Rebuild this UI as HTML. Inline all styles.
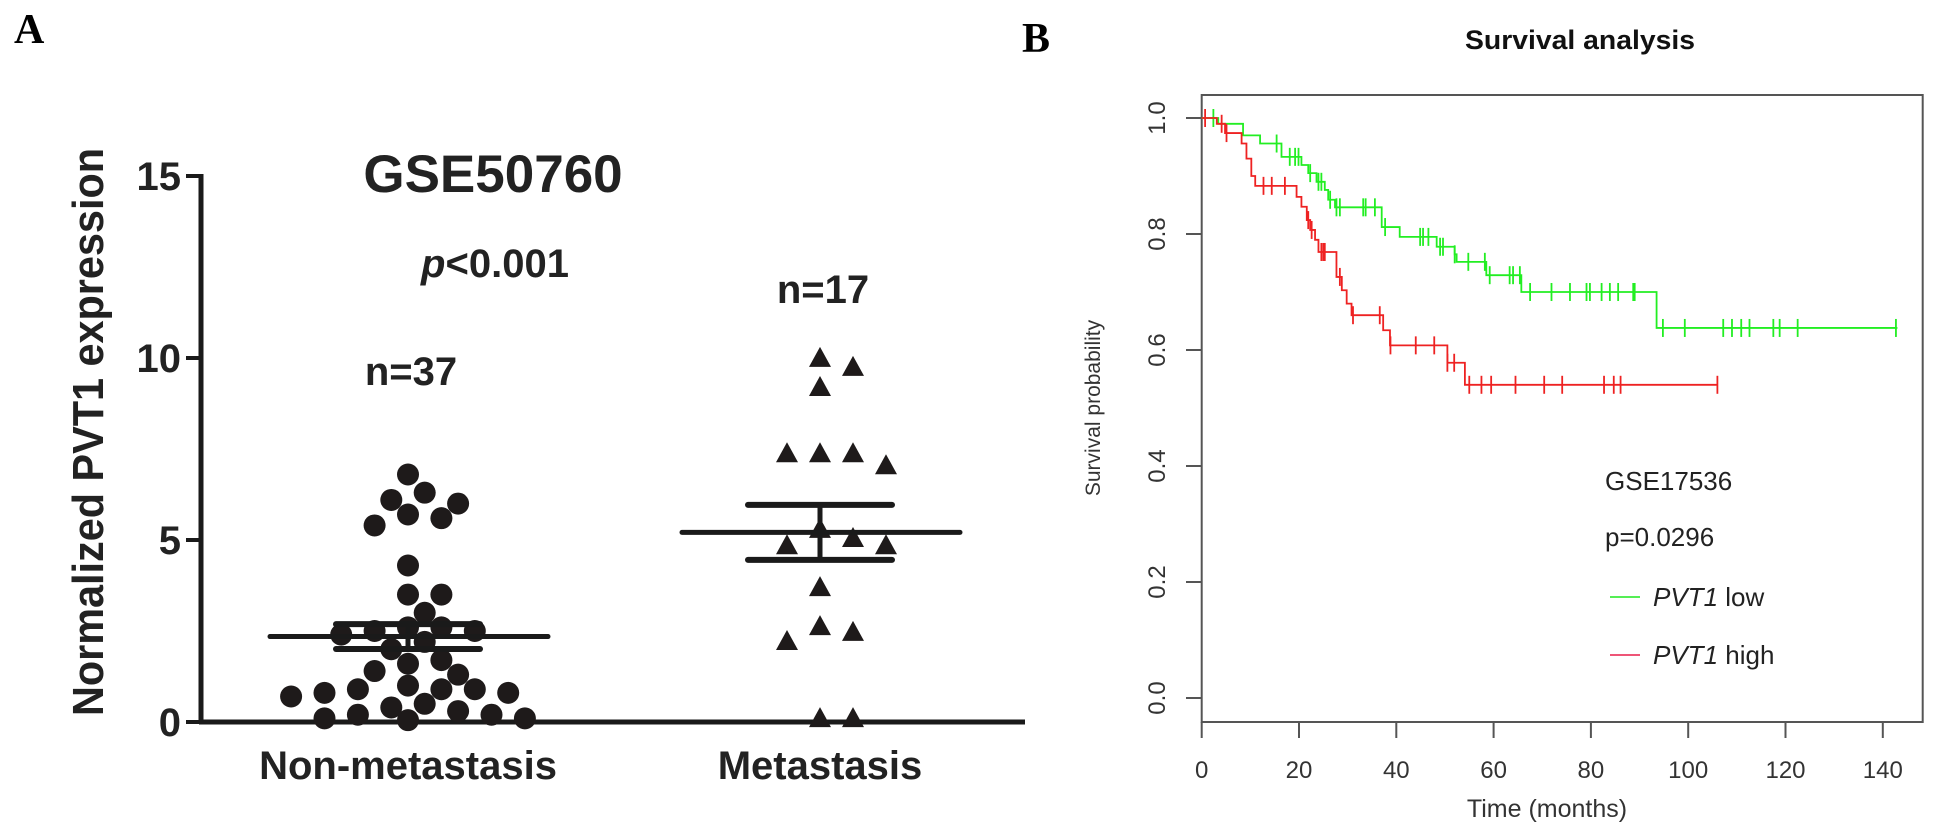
<!DOCTYPE html>
<html><head><meta charset="utf-8"><style>
html,body{margin:0;padding:0;background:#fff;}
svg{display:block;}
</style></head><body>
<svg id="fig" width="1936" height="839" viewBox="0 0 1936 839" xmlns="http://www.w3.org/2000/svg">
<text x="14" y="43" font-family="Liberation Serif, serif" font-weight="bold" font-size="42">A</text>
<text x="1022" y="52" font-family="Liberation Serif, serif" font-weight="bold" font-size="42">B</text>
<g id="panelA"></g>
<g id="panelB"></g>
</svg>
<script>
// ---------- Panel A data ----------
const groupsA = ["Non-metastasis", "Metastasis"];
const nonMetValues = [6.8,6.1,6.0,6.3,5.7,5.6,5.4,4.3,3.5,3.5,3.0,2.6,2.6,2.5,2.5,2.4,2.2,2.0,1.7,1.6,1.4,1.3,1.0,0.9,0.9,0.9,0.8,0.8,0.7,0.5,0.4,0.3,0.2,0.2,0.1,0.1,0.05];
const metValues = [9.95,9.7,9.15,7.33,7.33,7.33,7.0,5.25,5.0,4.8,4.8,3.65,2.42,2.58,2.17,0.05,0.05];
const yTicksA = [0,5,10,15];
const nLabels = ["n=37","n=17"];

// ---------- Panel B data ----------
const xTicksB = [0,20,40,60,80,100,120,140];
const yTicksB = [0.0,0.2,0.4,0.6,0.8,1.0];
const lowTimes = [3.4,8.5,12,16.4,20.5,21.9,23.6,25.3,26,27.4,37,40.7,48.3,52,52.4,58.5,65.7,93.5];
const lowSurv  = [0.99,0.97,0.956,0.933,0.919,0.905,0.89,0.876,0.859,0.846,0.812,0.795,0.778,0.765,0.752,0.729,0.7,0.638];
const lowEnd = 143;
const lowCensor = [2.4,15.4,18.1,19.2,19.9,22.3,24,24.6,26.4,27.7,28.4,33.2,33.7,35.6,37.7,44.9,45.5,46.6,49,49.6,52,54.8,58.2,59.2,63.3,64,65.4,67.5,71.9,75.7,79.1,79.8,82.2,83.9,85.6,88.7,89,94.8,99.3,107.2,109,110.9,112.6,117.5,118.8,122.5,142.7];
const highTimes = [3.1,4.8,8.2,9.2,10.2,11,19.5,20.5,21.6,22.3,23.3,24,27.7,28.8,29.8,30.8,37.3,38.7,50.5,54.1];
const highSurv  = [0.99,0.974,0.956,0.93,0.9,0.883,0.864,0.847,0.824,0.807,0.79,0.769,0.726,0.703,0.68,0.66,0.634,0.608,0.578,0.54];
const highEnd = 106;
const highCensor = [0.7,4.1,5.1,12.7,14.4,17.1,21.9,22.6,24.6,25,25.3,28.4,31.1,36.6,38.8,44,47.8,50.5,51.9,55,57.5,59.5,64.5,70.4,74.1,82.7,84.7,86.1,106];

const NS = "http://www.w3.org/2000/svg";
function mk(tag, attrs, parent){ const e=document.createElementNS(NS,tag); for(const k in attrs) e.setAttribute(k,attrs[k]); parent.appendChild(e); return e; }

// ---------- Panel A ----------
(function(){
  const g = document.getElementById('panelA');
  const yA = v => 722 - v*36.4;
  const cx = [408, 820];
  const F = '"Liberation Sans", Arial, sans-serif';
  let ax = mk('line',{x1:201,y1:yA(15)-2,x2:201,y2:724,stroke:'#1a1a1a','stroke-width':5},g);
   
  let bx = mk('line',{x1:199,y1:722,x2:1025,y2:722,stroke:'#1a1a1a','stroke-width':5},g);
   
  yTicksA.forEach(v=>{
    const t = mk('line',{x1:186,y1:yA(v),x2:201,y2:yA(v),stroke:'#1a1a1a','stroke-width':4},g);
     
    const l = mk('text',{x:181,y:yA(v)+14,'text-anchor':'end','font-family':F,'font-weight':'bold','font-size':40,fill:'#222'},g);
    l.textContent = v;
     
  });
  const yt = mk('text',{x:0,y:0,transform:'translate(103,432) rotate(-90)','text-anchor':'middle','font-family':F,'font-weight':'bold','font-size':44,fill:'#222',textLength:568,lengthAdjust:'spacingAndGlyphs'},g);
  yt.textContent = 'Normalized PVT1 expression';
   
  const t1 = mk('text',{x:493,y:192,'text-anchor':'middle','font-family':F,'font-weight':'bold','font-size':53,fill:'#222'},g);
  t1.textContent='GSE50760';
   
  const pt = mk('text',{x:495,y:277,'text-anchor':'middle','font-family':F,'font-weight':'bold','font-size':40,fill:'#222'},g);
  pt.innerHTML='<tspan font-style="italic">p</tspan>&lt;0.001';
   
  groupsA.forEach((name,i)=>{
    const c = mk('text',{x:cx[i],y:779,'text-anchor':'middle','font-family':F,'font-weight':'bold','font-size':40,fill:'#222'},g);
    c.textContent=name;
     
    const n = mk('text',{x:cx[i]+3,y:i==0?385:303,'text-anchor':'middle','font-family':F,'font-weight':'bold','font-size':40,fill:'#222'},g);
    n.textContent=nLabels[i];
     
  });
  function swarm(vals, step, minD, tri){
    const placed=[];
    const order = vals.map((v,i)=>i).sort((a,b)=>vals[b]-vals[a]);
    order.forEach(i=>{
      const y=yA(vals[i]);
      for(let k=0;k<40;k++){
        const off = (k%2?1:-1)*Math.ceil(k/2)*step;
        const ok = placed.every(p=> tri ? !(Math.abs(p.x-off)<minD && Math.abs(p.y-y)<minD) : Math.hypot(p.x-off,p.y-y)>=minD);
        if(ok){ placed.push({x:off,y:y}); break; }
      }
    });
    return placed;
  }
  const pn = swarm(nonMetValues, 16.7, 21, false);
  pn.forEach(p=>{
    const c = mk('circle',{cx:cx[0]+p.x,cy:p.y,r:11,fill:'#1e1a1a'},g);
     
  });
  const pm = swarm(metValues, 33, 21, true);
  pm.forEach(p=>{
    const x=cx[1]+p.x, y=p.y;
    const t = mk('polygon',{points:`${x},${y-13} ${x-11},${y+7} ${x+11},${y+7}`,fill:'#1e1a1a'},g);
     
  });
  function stats(a){ const m=a.reduce((s,v)=>s+v,0)/a.length; const sd=Math.sqrt(a.reduce((s,v)=>s+(v-m)*(v-m),0)/(a.length-1)); return [m, sd/Math.sqrt(a.length)]; }
  [nonMetValues, metValues].forEach((arr,i)=>{
    const [m,se]=stats(arr);
    const x=cx[i];
    const ml = mk('line',{x1:x-138,y1:yA(m),x2:x+140,y2:yA(m),stroke:'#1a1a1a','stroke-width':5,'stroke-linecap':'round'},g);
     
    [m+se,m-se].forEach(v=>{
      const s = mk('line',{x1:x-72,y1:yA(v),x2:x+72,y2:yA(v),stroke:'#1a1a1a','stroke-width':6,'stroke-linecap':'round'},g);
       
    });
    const v = mk('line',{x1:x,y1:yA(m+se),x2:x,y2:yA(m-se),stroke:'#1a1a1a','stroke-width':5},g);
     
  });
})();

// ---------- Panel B ----------
(function(){
  const g = document.getElementById('panelB');
  const xB = t => 1201.7 + t*4.865;
  const yB = s => 698 - s*580;
  const F = '"Liberation Sans", Arial, sans-serif';
  const box = mk('rect',{x:1201.7,y:95,width:721,height:627,fill:'none',stroke:'#555','stroke-width':2},g);
   
  xTicksB.forEach(t=>{
    const l = mk('line',{x1:xB(t),y1:722,x2:xB(t),y2:738,stroke:'#555','stroke-width':2},g);
     
    const tx = mk('text',{x:xB(t),y:778,'text-anchor':'middle','font-family':F,'font-size':24,fill:'#333'},g);
    tx.textContent=t;
     
  });
  yTicksB.forEach(s=>{
    const l = mk('line',{x1:1186,y1:yB(s),x2:1201.7,y2:yB(s),stroke:'#555','stroke-width':2},g);
     
    const tx = mk('text',{x:0,y:0,transform:`translate(1165,${yB(s)}) rotate(-90)`,'text-anchor':'middle','font-family':F,'font-size':24,fill:'#333'},g);
    tx.textContent=s.toFixed(1);
     
  });
  const yl = mk('text',{x:0,y:0,transform:'translate(1100,408) rotate(-90)','text-anchor':'middle','font-family':F,'font-size':21,fill:'#333'},g);
  yl.textContent='Survival probability';
   
  const xl = mk('text',{x:1547,y:817,'text-anchor':'middle','font-family':F,'font-size':25,fill:'#333'},g);
  xl.textContent='Time (months)';
   
  const ti = mk('text',{x:1580,y:49,'text-anchor':'middle','font-family':F,'font-weight':'bold','font-size':27,fill:'#111',textLength:230,lengthAdjust:'spacingAndGlyphs'},g);
  ti.textContent='Survival  analysis';
   

  function curve(times, surv, end, censor, color, name){
    let d = `M${xB(0)},${yB(1)}`;
    times.forEach((t,i)=>{ d += ` H${xB(t)} V${yB(surv[i])}`; });
    d += ` H${xB(end)}`;
    const p = mk('path',{d:d,fill:'none',stroke:color,'stroke-width':1.8},g);
     
    const sAt = t => { let s=1; times.forEach((tt,i)=>{ if(tt<=t) s=surv[i]; }); return s; };
    censor.forEach(t=>{
      const y=yB(sAt(t));
      const c = mk('line',{x1:xB(t),y1:y-9,x2:xB(t),y2:y+9,stroke:color,'stroke-width':1.8},g);
       
    });
  }
  curve(lowTimes, lowSurv, lowEnd, lowCensor, '#22ee22', 'pvt1-low');
  curve(highTimes, highSurv, highEnd, highCensor, '#ee2222', 'pvt1-high');

  const gs = mk('text',{x:1605,y:490,'font-family':F,'font-size':26,fill:'#222'},g);
  gs.textContent='GSE17536';
   
  const pv = mk('text',{x:1605,y:546,'font-family':F,'font-size':26,fill:'#222'},g);
  pv.textContent='p=0.0296';
   
  [['#55ee55','low',597,'legend-low'],['#ee5577','high',655,'legend-high']].forEach(([c,lab,y,n])=>{
    const l = mk('line',{x1:1610,y1:y,x2:1640,y2:y,stroke:c,'stroke-width':2},g);
     
    const t = mk('text',{x:1653,y:y+9,'font-family':F,'font-size':26,fill:'#222'},g);
    t.innerHTML = '<tspan font-style="italic">PVT1</tspan> '+lab;
     
  });
})();
</script>
</body></html>
